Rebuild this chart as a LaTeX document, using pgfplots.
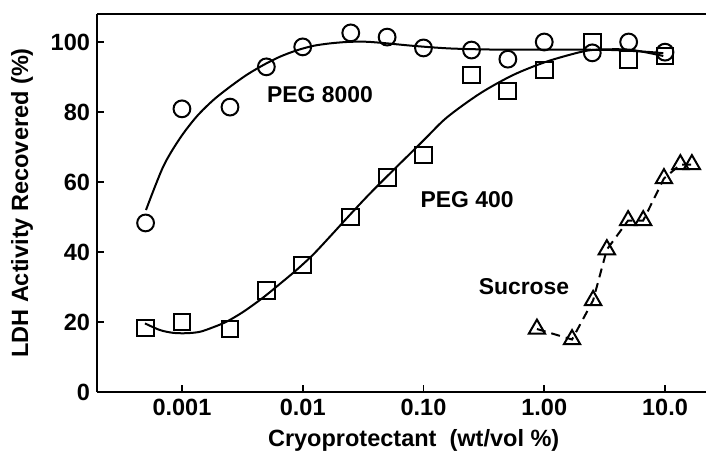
\documentclass[border=0pt]{standalone}
\usepackage{pgfplots}
\pgfplotsset{compat=1.18}
\usepackage{fontspec}
\setmainfont{Liberation Sans}

\begin{document}
\begin{tikzpicture}
\path[use as bounding box] (-48.5bp,-35.5bp) rectangle (304.5bp,196bp);
\begin{axis}[
    at={(0,0)}, anchor=south west,
    scale only axis, width=304.5bp, height=189bp,
    xmode=log, xmin=0.000198, xmax=21.85,
    ymin=0, ymax=108,
    axis x line*=box, axis y line*=left,
    xtick pos=bottom, ytick pos=left,
    tick align=inside, major tick length=3.5bp,
    xminorticks=false,
    xtick={0.001,0.01,0.1,1,10},
    xticklabels={0.001,0.01,0.10,1.00,10.0},
    ytick={0,20,40,60,80,100},
    /pgf/number format/assume math mode=true,
    tick label style={font=\fontsize{11.8}{13}\selectfont\bfseries},
    axis line style={line width=1.1bp},
    every tick/.style={black, line width=0.9bp},
    every axis y label/.style={at={(axis description cs:-0.123,0.5)}, rotate=90, anchor=center},
    every axis x label/.style={at={(axis description cs:0.52,-0.127)}, anchor=center},
    label style={font=\fontsize{11.8}{13}\selectfont\bfseries},
    ylabel={LDH Activity Recovered (\%)},
    xlabel={Cryoprotectant\ \ (wt/vol \%)},
]
% PEG 8000 fitted curve
\addplot[black, line width=1bp, smooth, tension=0.5] coordinates {
 (0.000504,52.0) (0.0007,64.4) (0.000963,72.5) (0.001324,78.7) (0.001817,83.4)
 (0.0025,87.2) (0.003435,90.6) (0.00471,93.4) (0.00648,95.8) (0.00891,97.6)
 (0.01223,98.9) (0.01681,99.6) (0.0231,100.0) (0.0317,100.1) (0.0436,99.8)
 (0.0824,98.9) (0.1557,98.2) (0.294,97.9) (0.551,97.8) (1.047,97.8)
 (1.976,97.8) (3.73,97.7) (7.05,97.2) (9.68,96.8)};
% PEG 400 fitted curve
\addplot[black, line width=1bp, smooth, tension=0.5] coordinates {
 (0.000494,19.6) (0.000658,17.7) (0.000847,16.9) (0.001094,16.8) (0.001409,17.2)
 (0.001815,18.5) (0.002344,20.1) (0.003219,22.9) (0.00471,27.0) (0.00648,30.9)
 (0.00891,34.9) (0.01223,39.3) (0.01682,44.4) (0.0231,49.6) (0.0317,54.7)
 (0.0436,59.6) (0.0995,71.8) (0.1557,78.4) (0.294,85.3) (0.555,90.6)
 (1.047,94.4) (1.977,97.1) (2.716,97.8) (5.13,97.8) (9.68,96.0)};
% PEG 8000 data
\addplot[only marks, mark=o, mark size=4.2bp, mark options={line width=1bp}] coordinates {
 (0.0005,48.3) (0.001,80.9) (0.0025,81.4) (0.005,92.9) (0.01,98.6) (0.025,102.6)
 (0.05,101.4) (0.1,98.3) (0.25,97.7) (0.5,95.1) (1,100) (2.5,96.9) (5,100) (10,97.1)};
% PEG 400 data
\addplot[only marks, mark=square, mark size=4.2bp, mark options={line width=1bp}] coordinates {
 (0.0005,18.3) (0.001,20) (0.0025,18) (0.005,29.1) (0.01,36.3) (0.025,50)
 (0.05,61.4) (0.1,67.7) (0.25,90.6) (0.5,86) (1,92) (2.5,100) (5,95) (10,96)};
% Sucrose
\addplot[black, line width=1bp, dash pattern=on 4.5bp off 3bp, mark=triangle, mark size=4.7bp,
  mark options={solid, fill=white, line width=1bp}] coordinates {
 (0.87,18) (1.7,15) (2.54,26.2) (3.3,40.7) (4.95,49) (6.6,49) (9.8,61) (13.4,65) (16.7,65)};
\node[font=\fontsize{11.5}{13}\selectfont\bfseries] at (axis cs:0.0139,84.9) {PEG 8000};
\node[font=\fontsize{11.5}{13}\selectfont\bfseries] at (axis cs:0.23,54.9) {PEG 400};
\node[font=\fontsize{11.5}{13}\selectfont\bfseries] at (axis cs:0.68,30) {Sucrose};
\end{axis}
\end{tikzpicture}
\end{document}
